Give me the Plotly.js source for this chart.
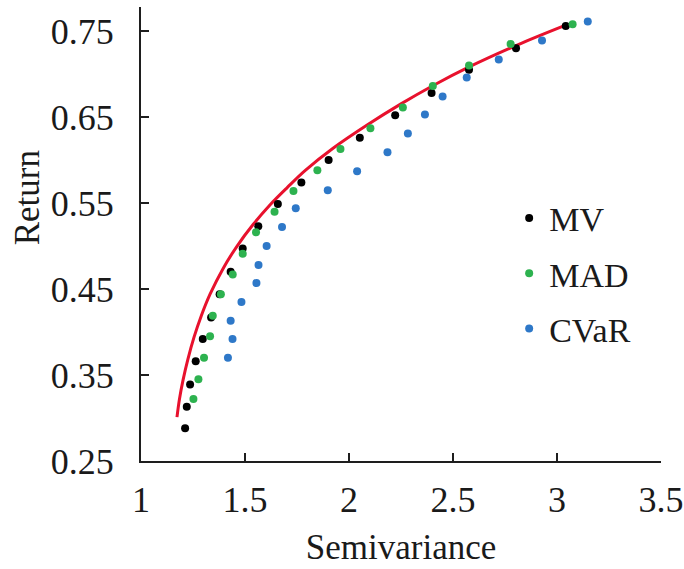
<!DOCTYPE html>
<html>
<head>
<meta charset="utf-8">
<script src="https://cdn.plot.ly/plotly-3.0.1.min.js"></script>
<style>html,body{margin:0;padding:0;background:#fff;}#chart{width:684px;height:569px;}</style>
</head>
<body>
<div id="chart"></div>
<script>
// Efficient frontier (red line)
var frontierX = [1.173, 1.185, 1.202, 1.225, 1.255, 1.290, 1.332, 1.395, 1.462, 1.539, 1.621, 1.703, 1.790, 1.925, 2.089, 2.248, 2.407, 2.575, 2.811, 3.033];
var frontierY = [0.301, 0.322, 0.344, 0.368, 0.394, 0.419, 0.444, 0.474, 0.500, 0.525, 0.548, 0.568, 0.588, 0.614, 0.641, 0.665, 0.687, 0.708, 0.734, 0.756];

// MV
var mvX = [1.212, 1.220, 1.236, 1.263, 1.297, 1.337, 1.378, 1.431, 1.489, 1.564, 1.658, 1.771, 1.902, 2.052, 2.222, 2.397, 2.577, 2.803, 3.042];
var mvY = [0.288, 0.313, 0.339, 0.366, 0.392, 0.417, 0.444, 0.470, 0.497, 0.523, 0.549, 0.574, 0.600, 0.626, 0.652, 0.678, 0.705, 0.730, 0.756];

// MAD
var madX = [1.252, 1.276, 1.303, 1.332, 1.345, 1.384, 1.441, 1.489, 1.553, 1.642, 1.733, 1.848, 1.959, 2.103, 2.259, 2.403, 2.577, 2.777, 3.075];
var madY = [0.322, 0.345, 0.370, 0.395, 0.419, 0.444, 0.467, 0.491, 0.516, 0.540, 0.564, 0.588, 0.613, 0.637, 0.661, 0.686, 0.710, 0.735, 0.758];

// CVaR
var cvarX = [1.418, 1.440, 1.431, 1.483, 1.555, 1.565, 1.604, 1.678, 1.744, 1.898, 2.039, 2.185, 2.283, 2.365, 2.450, 2.566, 2.720, 2.928, 3.148];
var cvarY = [0.370, 0.392, 0.413, 0.435, 0.457, 0.478, 0.500, 0.522, 0.544, 0.565, 0.587, 0.609, 0.631, 0.653, 0.674, 0.696, 0.717, 0.739, 0.761];

var seriesNames = ['MV', 'MAD', 'CVaR'];
var xTickVals = [1, 1.5, 2, 2.5, 3, 3.5];
var xTickText = ['1', '1.5', '2', '2.5', '3', '3.5'];
var yTickVals = [0.25, 0.35, 0.45, 0.55, 0.65, 0.75];
var yTickText = ['0.25', '0.35', '0.45', '0.55', '0.65', '0.75'];

var FONT = 'Liberation Serif';

var traces = [
  {x: frontierX, y: frontierY, mode: 'lines', type: 'scatter', showlegend: false,
   line: {color: '#e8112d', width: 3, shape: 'spline', smoothing: 1}, hoverinfo: 'skip'},
  {x: mvX, y: mvY, mode: 'markers', type: 'scatter', name: seriesNames[0], legendgroup: 'a',
   marker: {color: '#000000', size: 8}},
  {x: madX, y: madY, mode: 'markers', type: 'scatter', name: seriesNames[1], legendgroup: 'b',
   marker: {color: '#2db24f', size: 8}},
  {x: cvarX, y: cvarY, mode: 'markers', type: 'scatter', name: seriesNames[2], legendgroup: 'c',
   marker: {color: '#2e78c8', size: 8}}
];

var axisCommon = {
  showgrid: false, zeroline: false, showline: true, linecolor: '#1e1e1e', linewidth: 2,
  ticks: 'inside', ticklen: 8, tickwidth: 2, tickcolor: '#1e1e1e',
  tickfont: {family: FONT, size: 36, color: '#1a1a1a'}, tickmode: 'array'
};

var layout = {
  width: 684, height: 569,
  margin: {l: 141, r: 23, t: 7, b: 108},
  paper_bgcolor: '#ffffff', plot_bgcolor: '#ffffff',
  font: {family: FONT, color: '#1a1a1a'},
  xaxis: Object.assign({}, axisCommon, {
    range: [1, 3.5], tickvals: xTickVals, ticktext: xTickText, ticklabelstandoff: 6,
    title: {text: 'Semivariance', font: {family: FONT, size: 35, color: '#1a1a1a'}, standoff: 15}
  }),
  yaxis: Object.assign({}, axisCommon, {
    range: [0.25, 0.778], tickvals: yTickVals, ticktext: yTickText, ticklabelstandoff: 18
  }),
  legend: {
    x: 0.708, y: 0.598, xanchor: 'left', yanchor: 'top',
    font: {family: FONT, size: 34, color: '#1a1a1a'},
    tracegroupgap: 8, bgcolor: 'rgba(0,0,0,0)'
  },
  annotations: [{
    text: 'Return', textangle: -90, xref: 'paper', yref: 'paper',
    x: -0.218, y: 0.58, xanchor: 'center', yanchor: 'middle', showarrow: false,
    font: {family: FONT, size: 35, color: '#1a1a1a'}
  }]
};

Plotly.newPlot('chart', traces, layout, {displayModeBar: false, staticPlot: true});
</script>
</body>
</html>
